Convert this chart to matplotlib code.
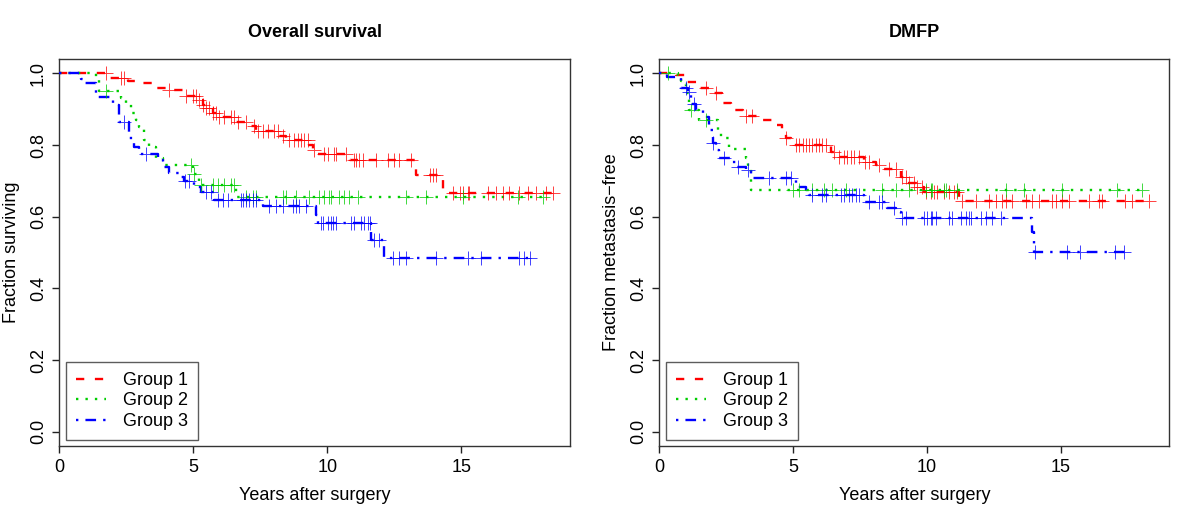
import numpy as np
import matplotlib
matplotlib.use("Agg")
import matplotlib.pyplot as plt

plt.rcParams['font.family'] = ['Liberation Sans', 'DejaVu Sans']

groups = ["Group 1", "Group 2", "Group 3"]
colors = ["#FF0000", "#00CD00", "#0000FF"]

# ---------------- Overall survival ----------------
os_g1_times = [1.87, 2.55, 3.11, 3.61, 3.98, 4.60, 5.22, 5.35, 5.47, 5.72, 5.97, 6.59, 7.09, 7.34,
               8.21, 8.46, 9.33, 9.45, 9.52, 10.85, 13.32, 14.30]
os_g1_surv = [0.987, 0.980, 0.973, 0.960, 0.953, 0.937, 0.925, 0.912, 0.902, 0.888, 0.879, 0.864,
              0.852, 0.838, 0.824, 0.815, 0.800, 0.786, 0.774, 0.758, 0.716, 0.666]
os_g1_cens = [1.74, 2.30, 2.43, 4.10, 4.73, 4.98, 5.10, 5.22, 5.35, 5.47, 5.60, 5.72, 5.85, 5.97, 6.16,
              6.40, 6.53, 6.65, 6.97, 7.28, 7.40, 7.59, 7.77, 8.02, 8.15, 8.33, 8.58, 8.77, 8.89, 9.02,
              9.14, 9.27, 9.51, 9.89, 10.01, 10.26, 10.32, 10.70, 11.01, 11.07, 11.19, 11.32, 11.82,
              12.25, 12.50, 12.69, 13.12, 13.81, 13.93, 14.05, 14.68, 14.93, 15.05, 15.24, 15.30,
              15.98, 16.29, 16.54, 16.79, 17.16, 17.47, 17.79, 18.16, 18.41]
os_g1_end = 18.41

os_g2_times = [1.37, 1.49, 2.30, 2.49, 2.68, 2.86, 2.99, 3.17, 3.36, 3.61, 3.86, 4.98, 5.22, 6.59]
os_g2_surv = [0.983, 0.950, 0.930, 0.916, 0.888, 0.870, 0.850, 0.813, 0.795, 0.763, 0.744, 0.719,
              0.688, 0.655]
os_g2_cens = [1.74, 4.91, 5.04, 5.29, 5.72, 5.91, 6.16, 6.41, 6.53, 6.97, 7.21, 7.34, 8.33, 8.46, 8.83,
              9.33, 9.70, 9.89, 10.07, 10.14, 10.45, 10.63, 10.82, 11.13, 12.94, 13.68, 15.05, 17.10,
              18.03]
os_g2_end = 18.16

os_g3_times = [0.81, 0.93, 1.37, 1.99, 2.24, 2.61, 2.80, 2.99, 3.67, 3.86, 4.10, 4.48, 4.66, 5.04, 5.29,
               5.78, 7.59, 9.58, 9.64, 11.63, 12.13]
os_g3_surv = [0.985, 0.972, 0.934, 0.911, 0.864, 0.819, 0.795, 0.774, 0.758, 0.740, 0.722, 0.710, 0.699,
              0.683, 0.669, 0.646, 0.630, 0.604, 0.582, 0.535, 0.484]
os_g3_cens = [2.43, 3.24, 4.70, 4.85, 5.47, 5.66, 5.91, 6.09, 6.28, 6.78, 6.84, 6.97, 7.09, 7.21, 7.34,
              7.84, 8.08, 8.33, 8.71, 8.83, 8.96, 9.20, 9.76, 9.83, 10.01, 10.14, 10.20, 10.33, 10.88,
              11.01, 11.26, 11.38, 11.50, 11.60, 11.75, 11.94, 12.44, 12.69, 12.94, 14.05, 15.24, 15.73,
              17.16, 17.35, 17.54]
os_g3_end = 17.66

# ---------------- DMFP ----------------
dm_g1_times = [0.62, 0.99, 1.49, 1.99, 2.36, 2.67, 3.11, 3.67, 4.23, 4.60, 4.73, 4.91, 6.41, 6.59, 7.65,
               8.08, 8.33, 9.02, 9.27, 9.58, 9.89, 11.19]
dm_g1_surv = [0.995, 0.976, 0.960, 0.945, 0.917, 0.899, 0.880, 0.869, 0.855, 0.836, 0.819, 0.800, 0.781,
              0.767, 0.753, 0.744, 0.733, 0.711, 0.693, 0.683, 0.669, 0.644]
dm_g1_cens = [1.74, 2.11, 3.24, 3.48, 4.75, 5.10, 5.22, 5.35, 5.47, 5.60, 5.72, 5.85, 5.97, 6.09, 6.22,
              6.53, 6.72, 6.90, 7.03, 7.15, 7.28, 7.46, 7.70, 7.84, 8.21, 8.58, 8.83, 9.08, 9.20, 9.33,
              9.52, 9.64, 9.83, 9.95, 10.14, 10.26, 10.39, 10.63, 10.82, 11.01, 11.13, 11.32, 11.82,
              12.31, 12.56, 12.81, 12.94, 13.18, 13.68, 13.93, 14.18, 14.68, 14.80, 15.05, 15.30, 16.04,
              16.42, 16.54, 17.41, 17.66, 18.28]
dm_g1_end = 18.45

dm_g2_times = [0.69, 0.81, 0.93, 0.99, 1.12, 1.49, 2.18, 2.30, 2.61, 3.24, 3.33, 3.42]
dm_g2_surv = [0.995, 0.980, 0.971, 0.944, 0.897, 0.869, 0.841, 0.819, 0.790, 0.763, 0.735, 0.674]
dm_g2_cens = [0.31, 1.18, 1.74, 5.00, 5.22, 5.72, 6.16, 6.47, 6.97, 8.33, 8.83, 9.33, 9.95, 10.14, 10.20,
              10.63, 10.70, 11.13, 12.94, 13.62, 15.05, 17.11, 18.03]
dm_g2_end = 18.16

dm_g3_times = [0.27, 0.81, 1.06, 1.18, 1.37, 1.62, 1.87, 1.99, 2.11, 2.24, 2.67, 2.92, 3.24, 3.42, 5.10,
               5.47, 5.60, 7.65, 8.52, 8.83, 9.02, 13.93, 13.99]
dm_g3_surv = [0.990, 0.960, 0.947, 0.914, 0.897, 0.878, 0.841, 0.805, 0.786, 0.763, 0.753, 0.739, 0.730,
              0.707, 0.683, 0.674, 0.660, 0.641, 0.624, 0.614, 0.595, 0.558, 0.502]
dm_g3_cens = [0.99, 1.12, 1.31, 2.00, 2.43, 2.93, 3.30, 4.10, 4.73, 4.91, 5.72, 6.09, 6.22, 6.78, 6.90,
              7.09, 7.21, 7.34, 7.46, 7.84, 8.21, 8.33, 8.77, 9.08, 9.20, 9.89, 10.01, 10.14, 10.20,
              10.33, 10.82, 10.94, 11.26, 11.44, 11.57, 11.63, 12.00, 12.19, 12.44, 12.75, 14.05, 15.24,
              15.73, 17.04, 17.35]
dm_g3_end = 17.54

linestyles = [(0, (3.5, 4.5)), (0, (1, 3)), (0, (1, 3, 4.5, 3))]

FS = 13


def km(ax, times, surv, cens, end, color, ls, label):
    t = np.asarray(times, float)
    s = np.asarray(surv, float)
    x = np.concatenate([[0.0], t, [end]])
    y = np.concatenate([[1.0], s, [s[-1]]])
    ax.plot(x, y, drawstyle='steps-post', color=color, lw=1.7, linestyle=ls,
            label=label, zorder=3)
    c = np.asarray(cens, float)
    idx = np.searchsorted(t, c, side='right')
    cy = np.where(idx == 0, 1.0, s[np.maximum(idx - 1, 0)])
    ax.plot(c, cy, linestyle='none', marker='+', markersize=10.5, markeredgewidth=0.7,
            color=color, alpha=0.75, zorder=4)


def style(ax, title, ylabel):
    ax.set_xlim(0, 19.05)
    ax.set_ylim(-0.04, 1.04)
    ax.set_xticks([0, 5, 10, 15])
    ax.set_yticks([0.0, 0.2, 0.4, 0.6, 0.8, 1.0])
    ax.set_yticklabels(["0.0", "0.2", "0.4", "0.6", "0.8", "1.0"], rotation=90, va='center')
    ax.tick_params(direction='out', length=5, width=1, pad=4, labelsize=FS, colors='#222222',
                   labelcolor='black')
    for sp in ax.spines.values():
        sp.set_linewidth(1.0)
        sp.set_color('#333333')
    ax.set_title(title, fontsize=FS, fontweight='bold', pad=16)
    ax.set_xlabel("Years after surgery", fontsize=FS, labelpad=8)
    ax.set_ylabel(ylabel, fontsize=FS, labelpad=7)
    leg = ax.legend(loc='lower left', bbox_to_anchor=(0.013, 0.0155), borderaxespad=0,
                    fontsize=FS, frameon=True, fancybox=False, edgecolor='#333333',
                    handlelength=1.65, handletextpad=0.95, labelspacing=0.2,
                    borderpad=0.55)
    leg.get_frame().set_linewidth(1.0)


fig = plt.figure(figsize=(12, 5.2), dpi=100)
ax1 = fig.add_axes([0.0494, 0.1423, 0.4256, 0.7442])
ax2 = fig.add_axes([0.5494, 0.1423, 0.4250, 0.7442])

os_data = [(os_g1_times, os_g1_surv, os_g1_cens, os_g1_end),
           (os_g2_times, os_g2_surv, os_g2_cens, os_g2_end),
           (os_g3_times, os_g3_surv, os_g3_cens, os_g3_end)]
dm_data = [(dm_g1_times, dm_g1_surv, dm_g1_cens, dm_g1_end),
           (dm_g2_times, dm_g2_surv, dm_g2_cens, dm_g2_end),
           (dm_g3_times, dm_g3_surv, dm_g3_cens, dm_g3_end)]

for (tt, ss, cc, ee), col, ls, lab in zip(os_data, colors, linestyles, groups):
    km(ax1, tt, ss, cc, ee, col, ls, lab)
for (tt, ss, cc, ee), col, ls, lab in zip(dm_data, colors, linestyles, groups):
    km(ax2, tt, ss, cc, ee, col, ls, lab)

style(ax1, "Overall survival", "Fraction surviving")
style(ax2, "DMFP", "Fraction metastasis\u2212free")

fig.savefig("out.png", dpi=100)
